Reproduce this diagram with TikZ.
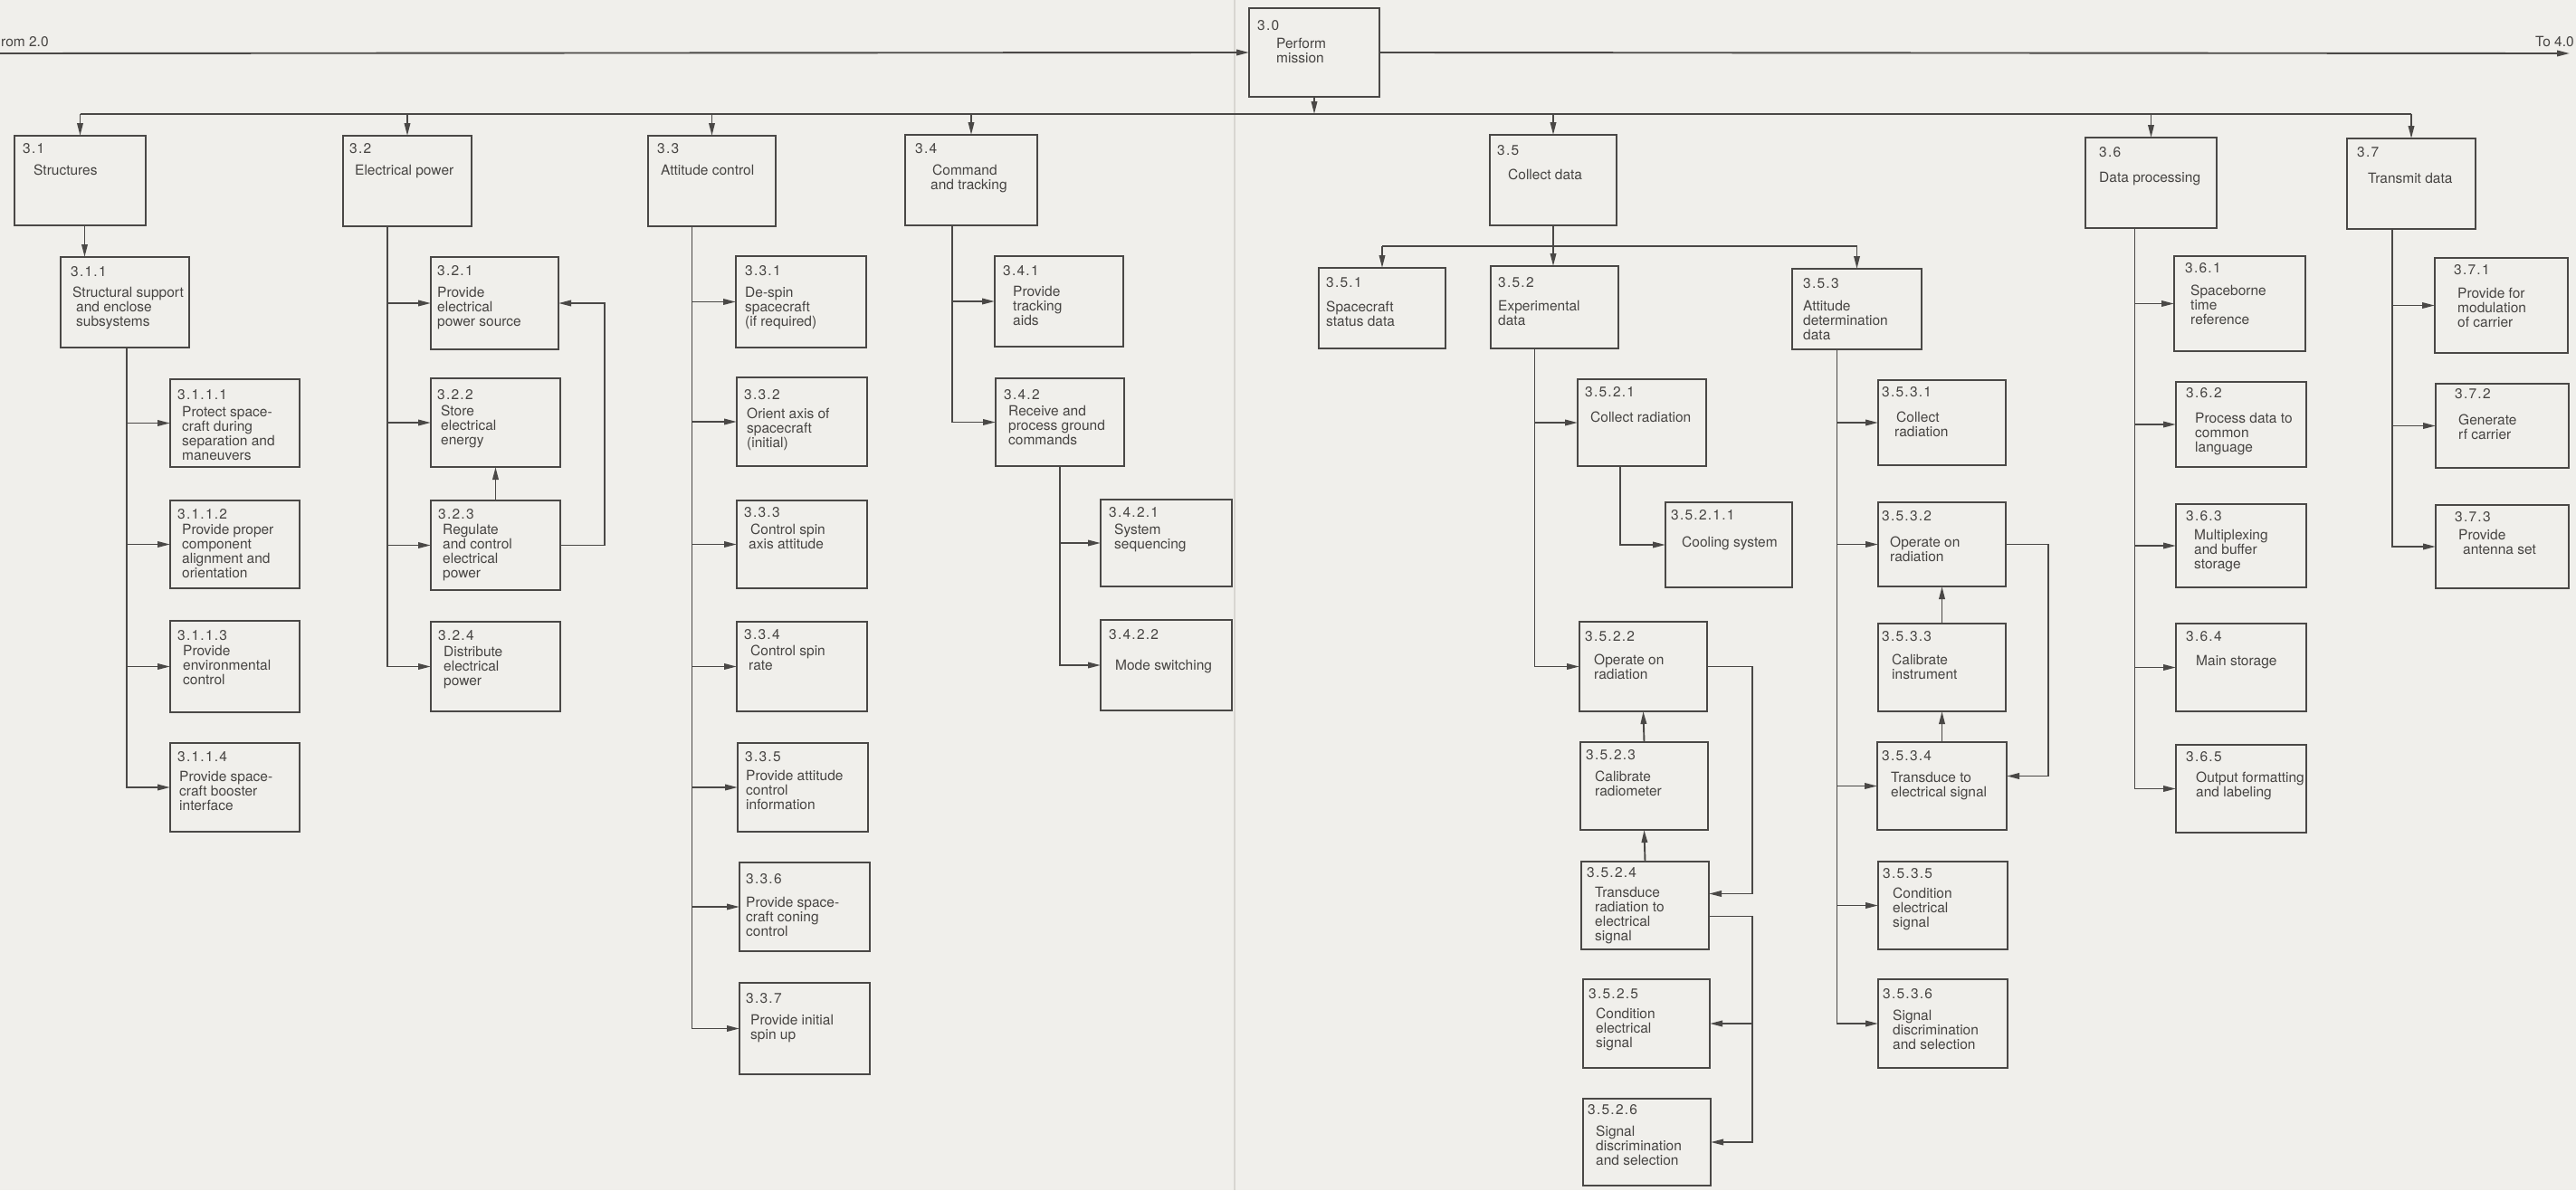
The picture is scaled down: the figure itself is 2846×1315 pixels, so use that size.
\documentclass[tikz,border=0pt]{standalone}
\usepackage{fontspec}
\setmainfont{TeX Gyre Heros}
\newfontfamily\numfont{TeX Gyre Heros}[LetterSpace=8]
\usetikzlibrary{arrows.meta,fit}
\definecolor{paper}{RGB}{240,239,235}
\definecolor{ink}{RGB}{70,68,66}
\definecolor{lc}{RGB}{74,72,70}
\definecolor{foldc}{RGB}{216,214,209}
% left-aligned stack of lines whose baseline is the first line
\newcommand\lns[1]{\vtop{\halign{##\hfil\cr#1\crcr}}}
% \blk{name}{top-left}{bottom-right}{number}{number offset}{text offset}{lines}
\newcommand\blk[7]{%
  \node[bx, fit={(#2) (#3)}] (#1) {};
  \node[numtxt] at ([shift={(#5)}]#1.north west) {#4};
  \node[bodytxt] at ([shift={(#6)}]#1.north west) {\lns{#7}};
}
\begin{document}
\begin{tikzpicture}[x=1pt, y=-1pt,
  bx/.style={draw=lc, line width=2.8pt, rectangle, inner sep=0pt, outer sep=0pt},
  numtxt/.style={anchor=base west, inner sep=0pt, text=ink, font=\numfont\fontsize{15.5}{16.3}\selectfont},
  bodytxt/.style={anchor=base west, inner sep=0pt, text=ink, font=\fontsize{15.5}{16.3}\selectfont},
  wire/.style={draw=lc, line width=1.9pt},
  arr/.style={wire, -{Triangle[length=14pt,width=6.5pt]}}]
\clip (0,0) rectangle (2846,1315);
\fill[paper] (0,0) rectangle (2846,1315);
% page fold
\draw[foldc, line width=1.5pt] (1364,0) -- (1364,1315);

% top level
\blk{n30}{1380,9}{1524,107}{3.0}{9,24}{30,44}{Perform\cr mission}
\blk{n31}{16,150}{161,249}{3.1}{9,19}{21,43}{Structures}
\blk{n32}{379,150}{521,250}{3.2}{7,19}{13,43}{Electrical power}
\blk{n33}{716,150}{857,250}{3.3}{10,19}{14,43}{Attitude control}
\blk{n34}{1000,149}{1146,249}{3.4}{11,20}{30,44}{Command\cr\kern-2pt and tracking}
\blk{n35}{1646,149}{1786,249}{3.5}{8,22}{20,49}{Collect data}
\blk{n36}{2304,152}{2449,252}{3.6}{15,21}{15,49}{Data processing}
\blk{n37}{2593,153}{2735,253}{3.7}{11,20}{23,49}{Transmit data}

% 3.1 structures
\blk{n311}{67,284}{209,384}{3.1.1}{11,21}{13,44}{Structural support\cr\kern4pt and enclose\cr\kern4pt subsystems}
\blk{n3111}{188,419}{331,516}{3.1.1.1}{8,22}{13,41}{Protect space-\cr craft during\cr separation and\cr maneuvers}
\blk{n3112}{188,553}{331,650}{3.1.1.2}{8,20}{13,37}{Provide proper\cr component\cr alignment and\cr orientation}
\blk{n3113}{188,686}{331,787}{3.1.1.3}{8,21}{14,38}{Provide\cr environmental\cr control}
\blk{n3114}{188,821}{331,919}{3.1.1.4}{8,20}{10,42}{Provide space-\cr craft booster\cr interface}

% 3.2 electrical power
\blk{n321}{476,284}{617,386}{3.2.1}{7,20}{7,44}{Provide\cr electrical\cr power source}
\blk{n322}{476,418}{619,516}{3.2.2}{7,23}{11,41}{Store\cr electrical\cr energy}
\blk{n323}{476,553}{619,652}{3.2.3}{8,20}{13,37}{Regulate\cr and control\cr electrical\cr power}
\blk{n324}{476,687}{619,786}{3.2.4}{8,20}{14,38}{Distribute\cr electrical\cr power}

% 3.3 attitude control
\blk{n331}{813,283}{957,384}{3.3.1}{10,21}{10,45}{De-spin\cr spacecraft\cr (if required)}
\blk{n332}{814,417}{958,515}{3.3.2}{8,24}{11,45}{Orient axis of\cr spacecraft\cr (initial)}
\blk{n333}{814,553}{958,650}{3.3.3}{8,18}{15,37}{Control spin\cr\kern-2pt axis attitude}
\blk{n334}{814,687}{958,786}{3.3.4}{8,19}{15,37}{Control spin\cr\kern-2pt rate}
\blk{n335}{815,821}{959,919}{3.3.5}{8,20}{9,41}{Provide attitude\cr control\cr information}
\blk{n336}{817,953}{961,1051}{3.3.6}{7,23}{7,49}{Provide space-\cr craft coning\cr control}
\blk{n337}{817,1086}{961,1187}{3.3.7}{7,22}{12,46}{Provide initial\cr spin up}

% 3.4 command and tracking
\blk{n341}{1099,283}{1241,383}{3.4.1}{9,21}{20,44}{Provide\cr tracking\cr aids}
\blk{n342}{1100,418}{1242,515}{3.4.2}{9,23}{14,41}{Receive and\cr process ground\cr commands}
\blk{n3421}{1216,552}{1361,648}{3.4.2.1}{9,19}{15,38}{System\cr sequencing}
\blk{n3422}{1216,685}{1361,785}{3.4.2.2}{9,21}{16,55}{Mode switching}

% 3.5 collect data
\blk{n351}{1457,296}{1597,385}{3.5.1}{8,21}{8,48}{Spacecraft\cr status data}
\blk{n352}{1647,294}{1788,385}{3.5.2}{8,23}{8,49}{Experimental\cr data}
\blk{n353}{1980,297}{2123,386}{3.5.3}{12,21}{12,46}{Attitude\cr determination\cr data}
\blk{n3521}{1743,419}{1885,515}{3.5.2.1}{8,19}{14,47}{Collect radiation}
\blk{n35211}{1840,555}{1980,649}{3.5.2.1.1}{6,19}{18,49}{Cooling system}
\blk{n3522}{1745,687}{1886,786}{3.5.2.2}{6,21}{16,47}{Operate on\cr radiation}
\blk{n3523}{1746,820}{1887,917}{3.5.2.3}{6,19}{16,43}{Calibrate\cr radiometer}
\blk{n3524}{1747,952}{1888,1049}{3.5.2.4}{6,17}{15,39}{Transduce\cr radiation to\cr electrical\cr signal}
\blk{n3525}{1749,1082}{1889,1180}{3.5.2.5}{6,21}{14,43}{Condition\cr electrical\cr signal}
\blk{n3526}{1749,1214}{1890,1310}{3.5.2.6}{5,17}{14,41}{Signal\cr discrimination\cr and selection}
\blk{n3531}{2075,420}{2216,514}{3.5.3.1}{4,18}{20,46}{Collect\cr\kern-2pt radiation}
\blk{n3532}{2075,555}{2216,648}{3.5.3.2}{4,20}{13,49}{Operate on\cr radiation}
\blk{n3533}{2075,689}{2216,786}{3.5.3.3}{4,19}{15,45}{Calibrate\cr instrument}
\blk{n3534}{2074,820}{2217,917}{3.5.3.4}{5,20}{15,44}{Transduce to\cr electrical signal}
\blk{n3535}{2075,952}{2218,1049}{3.5.3.5}{5,18}{16,40}{Condition\cr electrical\cr signal}
\blk{n3536}{2075,1082}{2218,1180}{3.5.3.6}{5,21}{16,45}{Signal\cr discrimination\cr and selection}

% 3.6 data processing
\blk{n361}{2402,283}{2547,388}{3.6.1}{12,18}{18,43}{Spaceborne\cr time\cr reference}
\blk{n362}{2404,422}{2548,516}{3.6.2}{11,17}{21,45}{Process data to\cr common\cr language}
\blk{n363}{2404,557}{2548,649}{3.6.3}{11,18}{20,39}{Multiplexing\cr and buffer\cr storage}
\blk{n364}{2404,689}{2548,786}{3.6.4}{11,19}{22,46}{Main storage}
\blk{n365}{2404,823}{2548,920}{3.6.5}{11,18}{22,41}{Output formatting\cr and labeling}

% 3.7 transmit data
\blk{n371}{2690,285}{2837,390}{3.7.1}{21,18}{25,44}{Provide for\cr modulation\cr of carrier}
\blk{n372}{2691,424}{2838,517}{3.7.2}{21,16}{25,45}{Generate\cr rf carrier}
\blk{n373}{2691,558}{2838,650}{3.7.3}{21,18}{25,38}{Provide\cr\kern5pt antenna set}

% flow in and out of 3.0
\coordinate (fromL) at (-5,59);
\coordinate (toR) at (2839,59);
\node[bodytxt] (fromtxt) at (1,51) {rom 2.0};
\node[bodytxt] (totxt) at (2801,51) {To 4.0};
\draw[arr] (fromL) -- (n30.west);
\draw[arr] (n30.east) -- (toR);

% main distribution bus
\coordinate (bus) at (0,126);
\draw[arr] (n30.south) -- (n30.south |- bus);
\draw[wire] (n31.north |- bus) -- (n37.north |- bus);
\foreach \n in {n31,n32,n33,n34,n35,n36,n37}
  \draw[arr] (\n.north |- bus) -- (\n.north);

% 3.1 branch
\coordinate (t31) at ([xshift=5pt]n31.south);
\draw[arr] (t31) -- (t31 |- n311.north);
\coordinate (t311) at ([xshift=2pt]n311.south);
\draw[arr] (t311) |- (n3114.west);
\foreach \n in {n3111,n3112,n3113}
  \draw[arr] (t311 |- \n.west) -- (\n.west);

% 3.2 branch
\coordinate (t32) at ([xshift=-22pt]n32.south);
\draw[arr] (t32) |- (n324.west);
\foreach \n in {n321,n322,n323}
  \draw[arr] (t32 |- \n.west) -- (\n.west);
\draw[arr] (n323.north) -- (n322.south);
\draw[arr] (n323.east) -- ++(49,0) |- (n321.east);

% 3.3 branch
\coordinate (t33) at ([xshift=-22pt]n33.south);
\draw[arr] (t33) |- (n337.west);
\foreach \n in {n331,n332,n333,n334,n335,n336}
  \draw[arr] (t33 |- \n.west) -- (\n.west);

% 3.4 branch
\coordinate (t34) at ([xshift=-21pt]n34.south);
\draw[arr] (t34) |- (n342.west);
\draw[arr] (t34 |- n341.west) -- (n341.west);
\draw[arr] (n342.south) |- (n3422.west);
\draw[arr] (n342.south |- n3421.west) -- (n3421.west);

% 3.5 branch
\coordinate (sb) at (0,272);
\draw[arr] (n35.south) -- (n35.south |- n352.north);
\draw[wire] (n351.north |- sb) -- (n353.north |- sb);
\draw[arr] (n351.north |- sb) -- (n351.north);
\draw[arr] (n353.north |- sb) -- (n353.north);

\coordinate (t352) at ([xshift=-22pt]n352.south);
\draw[arr] (t352) |- (n3522.west);
\draw[arr] (t352 |- n3521.west) -- (n3521.west);
\coordinate (t3521) at ([xshift=-24pt]n3521.south);
\draw[arr] (t3521) |- (n35211.west);
\draw[arr] (n3523.north) -- (n3522.south);
\draw[arr] (n3524.north) -- (n3523.south);
\coordinate (r352) at ([xshift=50pt]n3522.east);
\draw[arr] (n3522.east) -- (r352) |- ([yshift=13pt]n3524.east);
\draw[arr] ([yshift=-12pt]n3524.east) -| (r352 |- n3526.east) -- (n3526.east);
\draw[arr] (r352 |- n3525.east) -- (n3525.east);

\coordinate (t353) at ([xshift=-22pt]n353.south);
\draw[arr] (t353) |- (n3536.west);
\foreach \n in {n3531,n3532,n3534,n3535}
  \draw[arr] (t353 |- \n.west) -- (\n.west);
\draw[arr] (n3533.north) -- (n3532.south);
\draw[arr] (n3534.north) -- (n3533.south);
\draw[arr] (n3532.east) -- ++(47,0) |- ([yshift=11pt]n3534.east);

% 3.6 branch
\coordinate (t36) at ([xshift=-18pt]n36.south);
\draw[arr] (t36) |- (n365.west);
\foreach \n in {n361,n362,n363,n364}
  \draw[arr] (t36 |- \n.west) -- (\n.west);

% 3.7 branch
\coordinate (t37) at ([xshift=-21pt]n37.south);
\draw[arr] (t37) |- (n373.west);
\foreach \n in {n371,n372}
  \draw[arr] (t37 |- \n.west) -- (\n.west);
\end{tikzpicture}
\end{document}
